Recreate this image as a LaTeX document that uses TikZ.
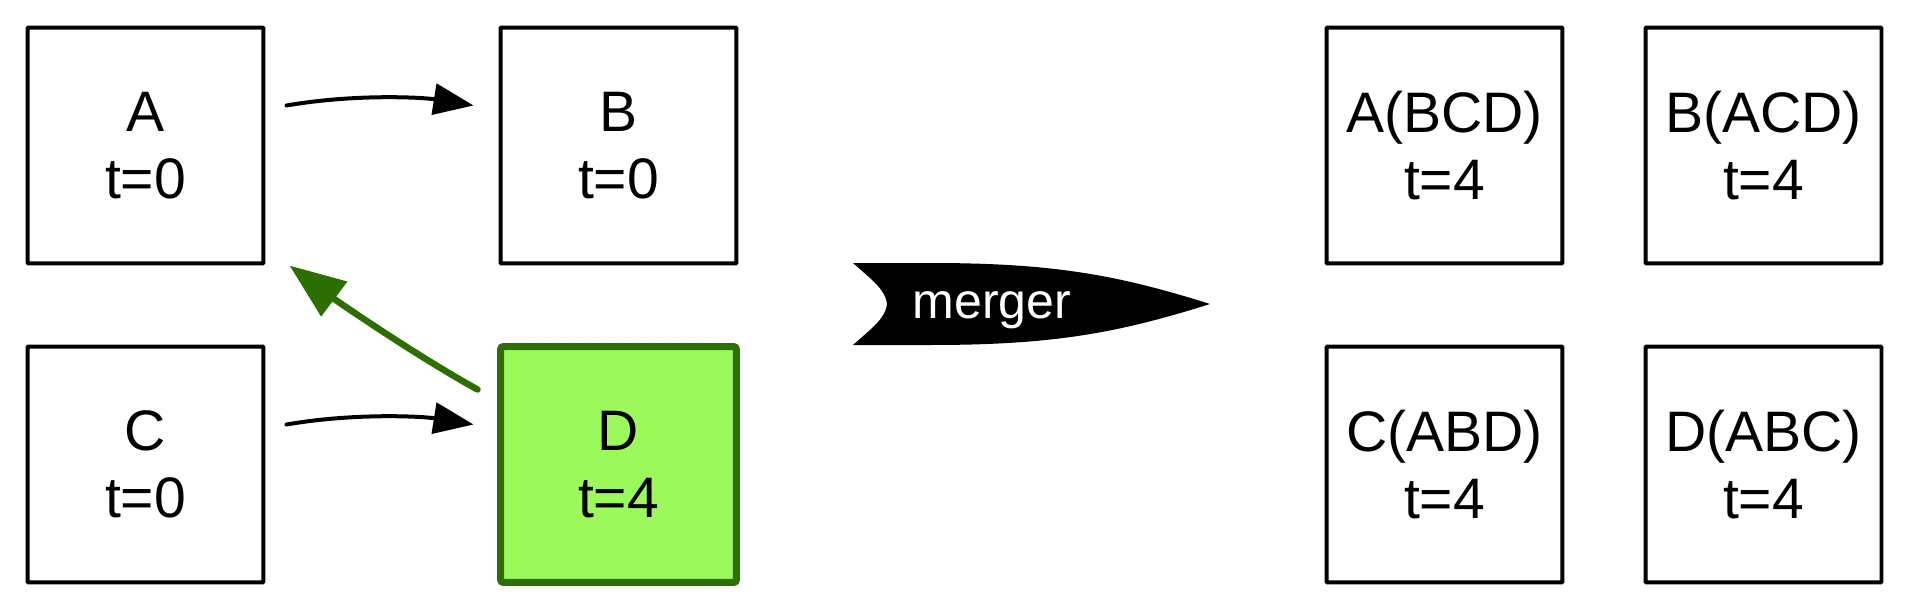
\documentclass[tikz,border=0pt]{standalone}
\usepackage{fontspec}
\setmainfont{Liberation Sans}
\usetikzlibrary{arrows.meta,calc}
\definecolor{dkgreen}{HTML}{2D6E00}
\definecolor{ltgreen}{HTML}{9CF95B}
\begin{document}
\begin{tikzpicture}[x=0.02cm,y=-0.02cm,
  box/.style={draw=black, line width=0.08cm, minimum width=4.72cm, minimum height=4.72cm,
    inner sep=0pt, align=center, rounded corners=0.02cm,
    font=\fontsize{32.5}{38}\selectfont},
  hibox/.style={box, draw=dkgreen, fill=ltgreen, line width=0.14cm, rounded corners=0.06cm},
  arr/.style={line width=0.08cm, line cap=round, -{Triangle[length=0.8cm,width=0.62cm]}},
  garr/.style={draw=dkgreen, line width=0.13cm, line cap=round, -{Triangle[length=1.12cm,width=0.84cm]}}]
\useasboundingbox (0,0) rectangle (1910,612);
\node[box] (A) at (145.5,145.5) {A\\t=0};
\node[box] (B) at (618.5,145.5) {B\\t=0};
\node[box] (C) at (145.5,464.5) {C\\t=0};
\node[hibox] (D) at (618.5,464.5) {D\\t=4};
\node[box] (A2) at (1444.5,145.5) {A(BCD)\\t=4};
\node[box] (B2) at (1763.5,145.5) {B(ACD)\\t=4};
\node[box] (C2) at (1444.5,464.5) {C(ABD)\\t=4};
\node[box] (D2) at (1763.5,464.5) {D(ABC)\\t=4};
\draw[arr] ($(A)+(141,-40)$) .. controls +(70,-12) and +(-50,-8) .. ($(B)+(-145,-40)$);
\draw[arr] ($(C)+(141,-40)$) .. controls +(70,-12) and +(-50,-8) .. ($(D)+(-145,-40)$);
\draw[garr] ($(D)+(-141,-75)$) .. controls +(-65,-36) and +(44,33) .. ($(A)+(144,120)$);
\fill (853,263) -- (870,278) .. controls (880,287) and (886,295) .. (887,304)
  .. controls (886,313) and (880,321) .. (870,330) -- (853,345) -- (930,345)
  .. controls (1050,345) and (1115,334) .. (1210,304)
  .. controls (1115,274) and (1050,263) .. (930,263) -- cycle;
\node[text=white, anchor=base, inner sep=0pt, font=\fontsize{28.5}{30}\selectfont] (M) at (992,318) {merger};
\end{tikzpicture}
\end{document}
